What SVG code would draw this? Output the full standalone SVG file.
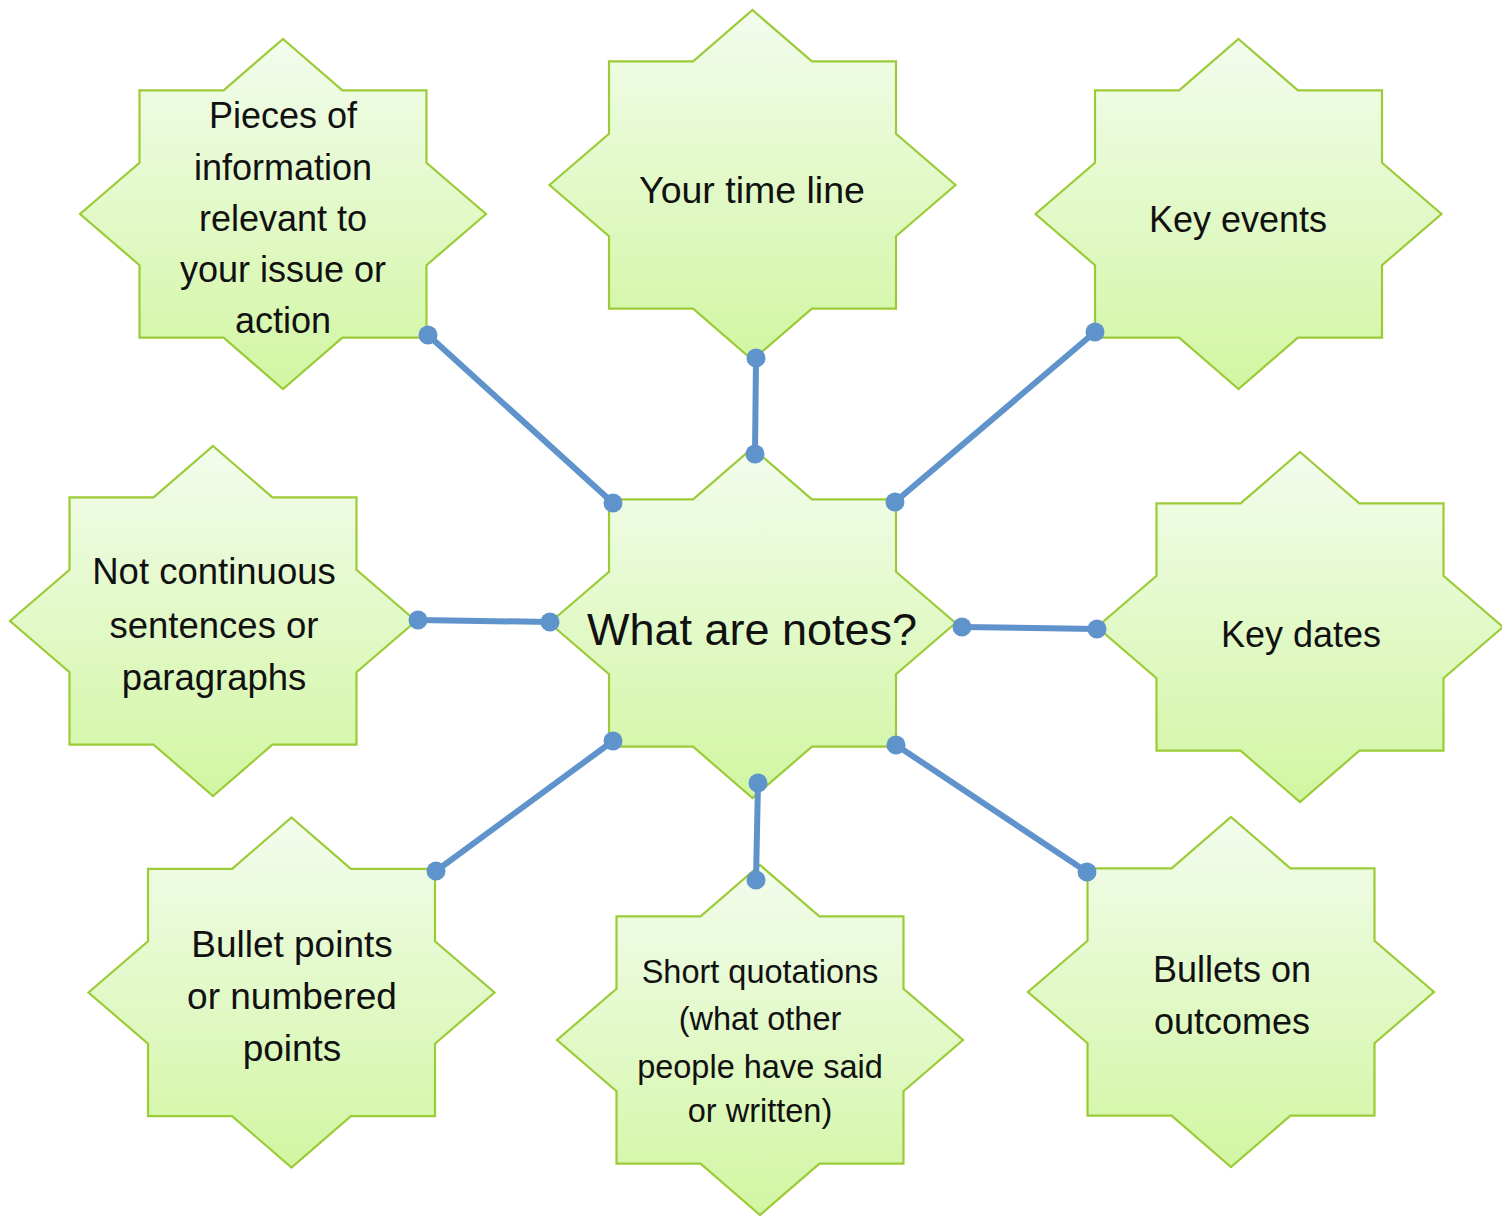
<svg xmlns="http://www.w3.org/2000/svg" xmlns:xlink="http://www.w3.org/1999/xlink" width="1502" height="1217" viewBox="0 0 1502 1217">
  <style>
    .star { fill: url(#leaf); stroke: #9ccb38; stroke-width: 2.2; stroke-linejoin: miter; }
    .lbl { font-family: "Liberation Sans", Arial, sans-serif; fill: #111; text-anchor: middle; }
    .wire { stroke: #5f93cb; stroke-width: 6; stroke-linecap: round; fill: none; }
    .dot { fill: #5f93cb; }
  </style>
  <defs>
    <linearGradient id="leaf" x1="0" y1="0" x2="0" y2="1">
      <stop offset="0" stop-color="#f3fced"/>
      <stop offset="1" stop-color="#d1f6a2"/>
    </linearGradient>
    <!-- eight-pointed star, centred on the origin -->
    <path id="star8" class="star" d="M0,-175 L59.4,-123.7 L143.5,-123.7 L143.5,-51.2 L203,0 L143.5,51.2 L143.5,123.7 L59.4,123.7 L0,175 L-59.4,123.7 L-143.5,123.7 L-143.5,51.2 L-203,0 L-143.5,-51.2 L-143.5,-123.7 L-59.4,-123.7 Z"/>
  </defs>

  <rect width="1502" height="1217" fill="#ffffff"/>

  <g id="node-pieces">
    <use xlink:href="#star8" transform="translate(283,214)"/>
    <text class="lbl" font-size="36" x="283"><tspan x="283" y="128">Pieces of</tspan><tspan x="283" y="180">information</tspan><tspan x="283" y="231">relevant to</tspan><tspan x="283" y="282">your issue or</tspan><tspan x="283" y="333">action</tspan></text>
  </g>

  <g id="node-timeline">
    <use xlink:href="#star8" transform="translate(752.5,185)"/>
    <text class="lbl" font-size="37.5" x="752" y="203">Your time line</text>
  </g>

  <g id="node-key-events">
    <use xlink:href="#star8" transform="translate(1238.5,214)"/>
    <text class="lbl" font-size="36" x="1238" y="232">Key events</text>
  </g>

  <g id="node-not-continuous">
    <use xlink:href="#star8" transform="translate(213,621)"/>
    <text class="lbl" font-size="36.5" x="214"><tspan x="214" y="584">Not continuous</tspan><tspan x="214" y="638">sentences or</tspan><tspan x="214" y="690">paragraphs</tspan></text>
  </g>

  <g id="node-centre">
    <use xlink:href="#star8" transform="translate(752.5,623)"/>
    <text class="lbl" font-size="45" x="752" y="645">What are notes?</text>
  </g>

  <g id="node-key-dates">
    <use xlink:href="#star8" transform="translate(1300,627)"/>
    <text class="lbl" font-size="36" x="1301" y="647">Key dates</text>
  </g>

  <g id="node-bullet-points">
    <use xlink:href="#star8" transform="translate(291.5,992.5)"/>
    <text class="lbl" font-size="37" x="292"><tspan x="292" y="957">Bullet points</tspan><tspan x="292" y="1009">or numbered</tspan><tspan x="292" y="1061">points</tspan></text>
  </g>

  <g id="node-quotations">
    <use xlink:href="#star8" transform="translate(760,1040)"/>
    <text class="lbl" font-size="32.5" x="760"><tspan x="760" y="983">Short quotations</tspan><tspan x="760" y="1030">(what other</tspan><tspan x="760" y="1078">people have said</tspan><tspan x="760" y="1122">or written)</tspan></text>
  </g>

  <g id="node-outcomes">
    <use xlink:href="#star8" transform="translate(1231,992)"/>
    <text class="lbl" font-size="36" x="1232"><tspan x="1232" y="982">Bullets on</tspan><tspan x="1232" y="1034">outcomes</tspan></text>
  </g>

  <g id="connectors">
    <line class="wire" x1="428" y1="335" x2="613" y2="503"/>
    <circle class="dot" cx="428" cy="335" r="9.5"/>
    <circle class="dot" cx="613" cy="503" r="9.5"/>

    <line class="wire" x1="756" y1="358" x2="755" y2="454"/>
    <circle class="dot" cx="756" cy="358" r="9.5"/>
    <circle class="dot" cx="755" cy="454" r="9.5"/>

    <line class="wire" x1="1095" y1="332" x2="895" y2="502"/>
    <circle class="dot" cx="1095" cy="332" r="9.5"/>
    <circle class="dot" cx="895" cy="502" r="9.5"/>

    <line class="wire" x1="418" y1="620" x2="550" y2="622"/>
    <circle class="dot" cx="418" cy="620" r="9.5"/>
    <circle class="dot" cx="550" cy="622" r="9.5"/>

    <line class="wire" x1="962" y1="627" x2="1097" y2="629"/>
    <circle class="dot" cx="962" cy="627" r="9.5"/>
    <circle class="dot" cx="1097" cy="629" r="9.5"/>

    <line class="wire" x1="436" y1="871" x2="613" y2="741"/>
    <circle class="dot" cx="436" cy="871" r="9.5"/>
    <circle class="dot" cx="613" cy="741" r="9.5"/>

    <line class="wire" x1="758" y1="783" x2="756" y2="880"/>
    <circle class="dot" cx="758" cy="783" r="9.5"/>
    <circle class="dot" cx="756" cy="880" r="9.5"/>

    <line class="wire" x1="896" y1="745" x2="1087" y2="872"/>
    <circle class="dot" cx="896" cy="745" r="9.5"/>
    <circle class="dot" cx="1087" cy="872" r="9.5"/>
  </g>
</svg>
